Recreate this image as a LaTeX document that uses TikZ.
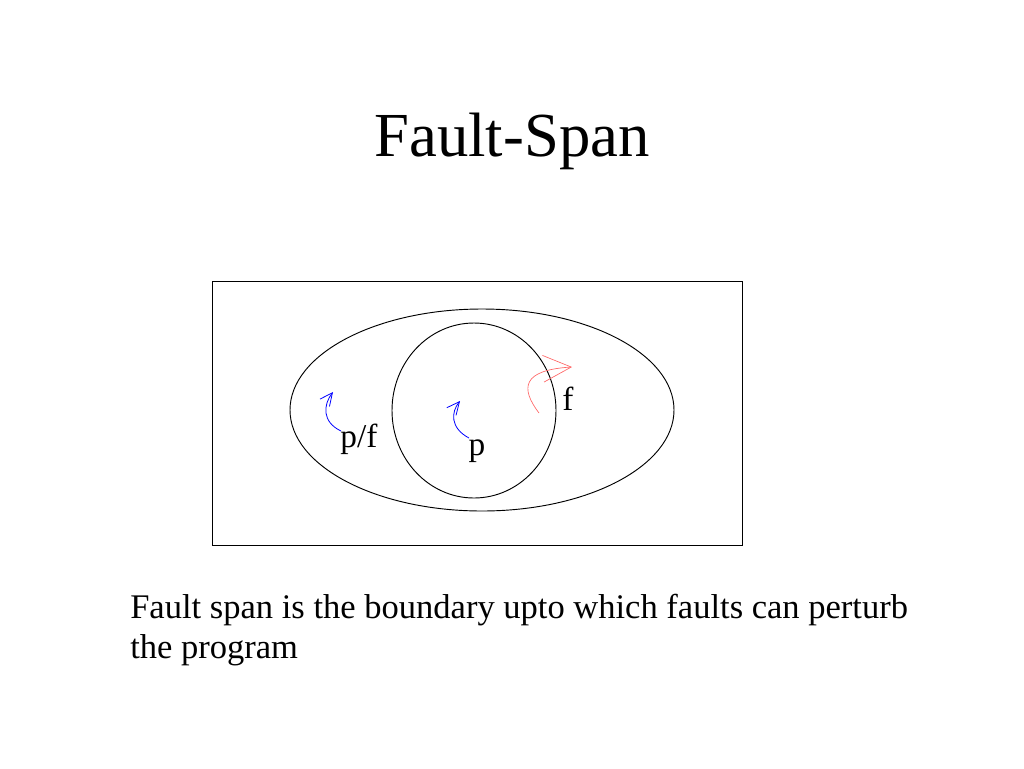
\documentclass[tikz,border=0pt]{standalone}
\usepackage{fontspec}
\setmainfont{Liberation Serif}
\usetikzlibrary{arrows.meta}

\tikzset{
  flowarrow/.style={line width=0.6pt, -{Straight Barb[length=9.5pt,width=9pt,line width=0.6pt]}},
  bigarrow/.style={line width=0.5pt, -{Straight Barb[length=21pt,width=20pt,line width=0.5pt]}},
  label/.style={anchor=base, inner sep=0.75pt, font=\fontsize{25}{30}\selectfont}
}

\begin{document}
\begin{tikzpicture}[x=0.75pt,y=0.75pt,yscale=-1,xscale=1]
\useasboundingbox (0,0) rectangle (1024,768);

% Title
\node (title) at (512,156) [anchor=base, inner sep=0pt, font=\fontsize{47}{56}\selectfont] {Fault-Span};

% Frame, fault span and invariant
\draw[line width=0.7pt] (212,281) rectangle (742,545);
\draw[line width=0.7pt] (482,410) ellipse [x radius=192, y radius=101];
\draw[line width=0.7pt] (474,410.5) ellipse [x radius=82, y radius=87.5];

% Labels
\node (pf) at (359,447) [label] {p/f};
\node (p) at (477,455) [label] {p};
\node (f) at (568,410) [label] {f};

% Transitions
\coordinate (pftip) at (333,392);
\coordinate (ptip) at (460,401);
\coordinate (ftip) at (572,367);
\draw[flowarrow, blue] (341,431) .. controls (322,422) and (323,405) .. (pftip);
\draw[flowarrow, blue] (469,438) .. controls (450,428) and (451,412) .. (ptip);
\draw[bigarrow, red!60] (539,413) .. controls (520,388) and (522,370) .. (ftip);

% Explanation
\node (note) at (130,658) [anchor=base west, inner sep=0pt, align=left, font=\fontsize{25.9}{29.3}\selectfont] {Fault span is the boundary upto which faults can perturb\\the program};

\end{tikzpicture}
\end{document}
